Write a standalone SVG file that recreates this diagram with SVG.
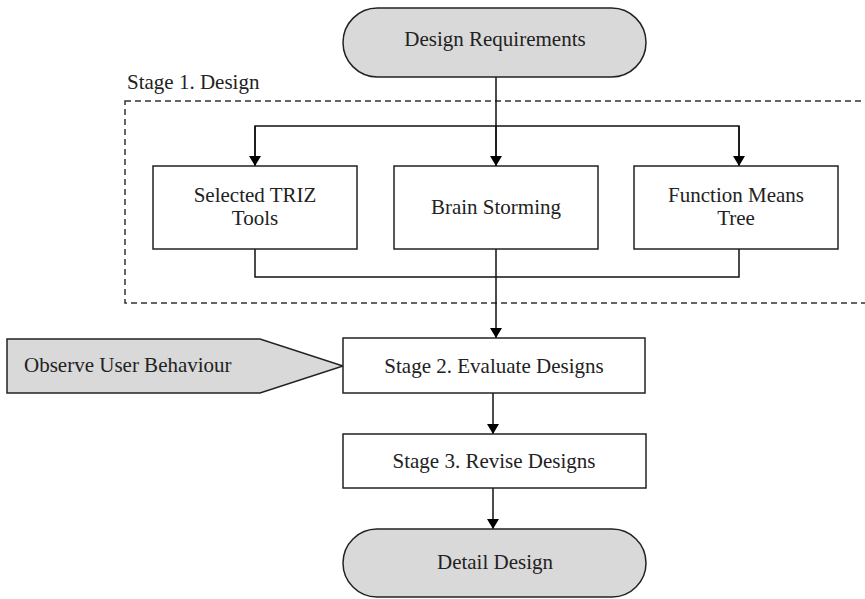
<svg xmlns="http://www.w3.org/2000/svg" width="865" height="599" viewBox="0 0 865 599">
<defs>
<marker id="arr" viewBox="0 0 10 12" refX="10" refY="6" markerWidth="10" markerHeight="12" markerUnits="userSpaceOnUse" orient="auto">
<path d="M0,0 L10,6 L0,12 Z" fill="#000"/>
</marker>
</defs>
<style>
text{font-family:"Liberation Serif","Times New Roman",serif;font-size:21px;fill:#222;text-anchor:middle}
.term{fill:#d9d9d9;stroke:#222;stroke-width:1.5}
.box{fill:#fff;stroke:#222;stroke-width:1.5}
.line{fill:none;stroke:#111;stroke-width:1.5}
.dash{fill:none;stroke:#333;stroke-width:1.5;stroke-dasharray:6,4}
</style>
<rect fill="#fff" width="865" height="599"/>
<g id="stage1">
<rect class="dash" x="125" y="101" width="760" height="202"/>
<text x="127" y="89" style="text-anchor:start">Stage 1. Design</text>
</g>
<g id="connectors">
<path class="line" d="M496,77 V166"/>
<path class="line" d="M255,166 V126 H739 V166"/>
<path class="line" d="M255,126 V166" marker-end="url(#arr)"/>
<path class="line" d="M496,126 V166" marker-end="url(#arr)"/>
<path class="line" d="M739,126 V166" marker-end="url(#arr)"/>
<path class="line" d="M255,249 V277 H739 V249"/>
<path class="line" d="M496,249 V338" marker-end="url(#arr)"/>
<path class="line" d="M493,393 V434" marker-end="url(#arr)"/>
<path class="line" d="M493,488 V529" marker-end="url(#arr)"/>
</g>
<g id="design-requirements">
<rect class="term" x="343" y="8" width="303" height="69" rx="34.5"/>
<text x="495" y="46">Design Requirements</text>
</g>
<g id="triz">
<rect class="box" x="153" y="166" width="204" height="83"/>
<text x="255" y="202">Selected TRIZ</text>
<text x="255" y="225">Tools</text>
</g>
<g id="brainstorming">
<rect class="box" x="394" y="166" width="204" height="83"/>
<text x="496" y="214">Brain Storming</text>
</g>
<g id="function-means">
<rect class="box" x="634" y="166" width="204" height="83"/>
<text x="736" y="202">Function Means</text>
<text x="736" y="225">Tree</text>
</g>
<g id="observe">
<path class="term" d="M7,339 H260 L343,366 L260,393 H7 Z"/>
<text x="24" y="372" style="text-anchor:start">Observe User Behaviour</text>
</g>
<g id="stage2">
<rect class="box" x="343" y="338" width="302" height="55"/>
<text x="494" y="373">Stage 2. Evaluate Designs</text>
</g>
<g id="stage3">
<rect class="box" x="343" y="434" width="303" height="54"/>
<text x="494" y="468">Stage 3. Revise Designs</text>
</g>
<g id="detail-design">
<rect class="term" x="343" y="529" width="303" height="68" rx="34"/>
<text x="495" y="569">Detail Design</text>
</g>
</svg>
